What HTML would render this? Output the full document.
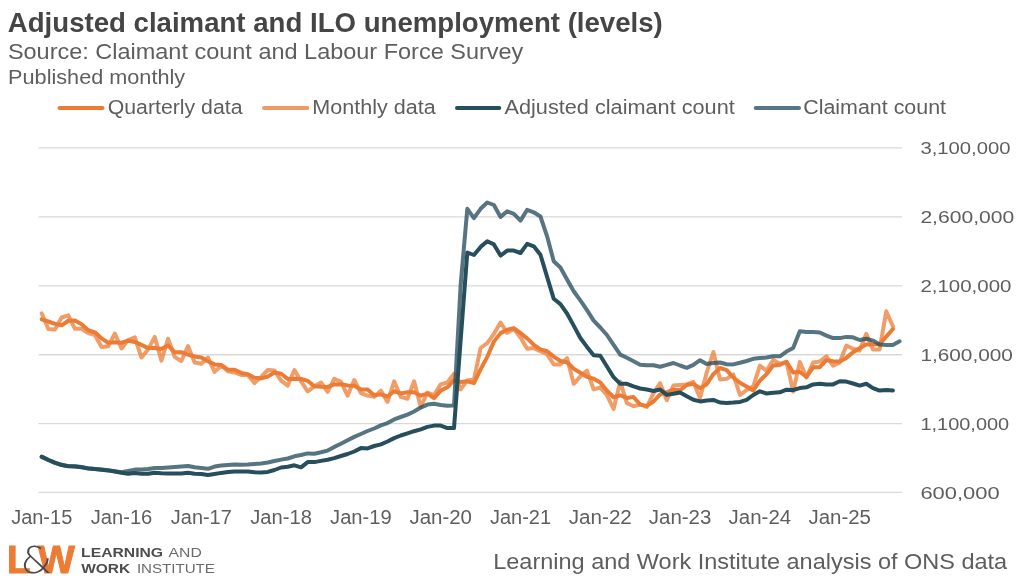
<!DOCTYPE html>
<html lang="en"><head><meta charset="utf-8"><title>Adjusted claimant and ILO unemployment (levels)</title>
<style>html,body{margin:0;padding:0;background:#fff}body{width:1024px;height:586px;overflow:hidden}svg{display:block}svg{fill:#5e5e5e}text{font-family:"Liberation Sans",sans-serif}</style>
</head><body>
<svg width="1024" height="586" viewBox="0 0 1024 586">
<rect width="1024" height="586" fill="#fff"/>
<text x="7.8" y="31.5" font-size="27.2" textLength="655" lengthAdjust="spacingAndGlyphs" font-weight="bold" fill="#454545">Adjusted claimant and ILO unemployment (levels)</text>
<text x="7.9" y="59.1" font-size="22" textLength="515.4" lengthAdjust="spacingAndGlyphs">Source: Claimant count and Labour Force Survey</text>
<text x="8.1" y="83.5" font-size="19.5" textLength="177" lengthAdjust="spacingAndGlyphs">Published monthly</text>
<line x1="59.5" y1="107.9" x2="102.5" y2="107.9" stroke="#EC7C35" stroke-width="4" stroke-linecap="round"/>
<text x="107.75" y="113.9" font-size="20" textLength="134.75" lengthAdjust="spacingAndGlyphs">Quarterly data</text>
<line x1="264" y1="107.9" x2="307.25" y2="107.9" stroke="#F09A68" stroke-width="4" stroke-linecap="round"/>
<text x="312.25" y="113.9" font-size="20" textLength="123.5" lengthAdjust="spacingAndGlyphs">Monthly data</text>
<line x1="457" y1="107.9" x2="499.25" y2="107.9" stroke="#264E5C" stroke-width="4" stroke-linecap="round"/>
<text x="504.5" y="113.9" font-size="20" textLength="230.25" lengthAdjust="spacingAndGlyphs">Adjusted claimant count</text>
<line x1="755.75" y1="107.9" x2="799" y2="107.9" stroke="#567782" stroke-width="4" stroke-linecap="round"/>
<text x="803.25" y="113.9" font-size="20" textLength="142.75" lengthAdjust="spacingAndGlyphs">Claimant count</text>
<line x1="38.6" y1="147.8" x2="902" y2="147.8" stroke="#D9D9D9" stroke-width="1.3"/>
<line x1="38.6" y1="216.8" x2="902" y2="216.8" stroke="#D9D9D9" stroke-width="1.3"/>
<line x1="38.6" y1="285.8" x2="902" y2="285.8" stroke="#D9D9D9" stroke-width="1.3"/>
<line x1="38.6" y1="354.75" x2="902" y2="354.75" stroke="#D9D9D9" stroke-width="1.3"/>
<line x1="38.6" y1="423.7" x2="902" y2="423.7" stroke="#D9D9D9" stroke-width="1.3"/>
<line x1="38.6" y1="492.4" x2="902" y2="492.4" stroke="#D9D9D9" stroke-width="1.3"/>
<text x="920.4" y="154.1" font-size="17" textLength="90.2" lengthAdjust="spacingAndGlyphs">3,100,000</text>
<text x="920.4" y="223.1" font-size="17" textLength="93.8" lengthAdjust="spacingAndGlyphs">2,600,000</text>
<text x="920.4" y="292.1" font-size="17" textLength="91.0" lengthAdjust="spacingAndGlyphs">2,100,000</text>
<text x="920.4" y="361.05" font-size="17" textLength="92.5" lengthAdjust="spacingAndGlyphs">1,600,000</text>
<text x="920.4" y="430.0" font-size="17" textLength="88.8" lengthAdjust="spacingAndGlyphs">1,100,000</text>
<text x="920.4" y="498.7" font-size="17" textLength="79.2" lengthAdjust="spacingAndGlyphs">600,000</text>
<text x="11.15" y="524.25" font-size="19.5" textLength="61.1" lengthAdjust="spacingAndGlyphs">Jan-15</text>
<text x="90.7" y="524.25" font-size="19.5" textLength="61.6" lengthAdjust="spacingAndGlyphs">Jan-16</text>
<text x="170.85" y="524.25" font-size="19.5" textLength="60.9" lengthAdjust="spacingAndGlyphs">Jan-17</text>
<text x="250.3" y="524.25" font-size="19.5" textLength="61.6" lengthAdjust="spacingAndGlyphs">Jan-18</text>
<text x="330.1" y="524.25" font-size="19.5" textLength="61.6" lengthAdjust="spacingAndGlyphs">Jan-19</text>
<text x="409.4" y="524.25" font-size="19.5" textLength="62.6" lengthAdjust="spacingAndGlyphs">Jan-20</text>
<text x="489.95" y="524.25" font-size="19.5" textLength="61.1" lengthAdjust="spacingAndGlyphs">Jan-21</text>
<text x="568.75" y="524.25" font-size="19.5" textLength="63.1" lengthAdjust="spacingAndGlyphs">Jan-22</text>
<text x="648.8" y="524.25" font-size="19.5" textLength="62.6" lengthAdjust="spacingAndGlyphs">Jan-23</text>
<text x="728.6" y="524.25" font-size="19.5" textLength="62.6" lengthAdjust="spacingAndGlyphs">Jan-24</text>
<text x="808.4" y="524.25" font-size="19.5" textLength="62.6" lengthAdjust="spacingAndGlyphs">Jan-25</text>
<path d="M41.70,313.30 L48.35,329.00 L55.00,329.40 L61.65,317.50 L68.30,315.30 L74.95,328.80 L81.60,328.80 L88.25,333.10 L94.90,335.00 L101.55,346.90 L108.20,346.30 L114.85,333.50 L121.50,348.50 L128.15,340.00 L134.80,337.30 L141.45,357.50 L148.10,349.40 L154.75,336.90 L161.40,360.60 L168.05,338.80 L174.70,356.90 L181.35,361.00 L188.00,346.00 L194.65,362.50 L201.30,363.80 L207.95,357.50 L214.60,371.90 L221.25,365.60 L227.90,371.30 L234.55,372.50 L241.20,375.00 L247.85,375.00 L254.50,383.10 L261.15,376.90 L267.80,370.00 L274.45,370.60 L281.10,380.60 L287.75,385.60 L294.40,370.00 L301.05,381.30 L307.70,391.30 L314.35,386.30 L321.00,382.50 L327.65,391.90 L334.30,378.80 L340.95,381.90 L347.60,395.60 L354.25,380.00 L360.90,393.10 L367.55,395.60 L374.20,396.90 L380.85,390.60 L387.50,401.90 L394.15,381.30 L400.80,396.90 L407.45,398.80 L414.10,381.30 L420.75,406.90 L427.40,392.50 L434.05,395.00 L440.70,384.40 L447.35,382.50 L454.00,373.80 L460.65,389.40 L467.30,380.50 L473.95,379.50 L480.60,348.00 L487.25,343.10 L493.90,333.80 L500.55,322.50 L507.20,332.80 L513.85,329.00 L520.50,337.50 L527.15,348.80 L533.80,348.10 L540.45,351.30 L547.10,354.30 L553.75,364.40 L560.40,364.40 L567.05,358.10 L573.70,383.80 L580.35,376.30 L587.00,370.60 L593.65,389.40 L600.30,387.50 L606.95,395.30 L613.60,409.00 L620.25,381.60 L626.90,403.10 L633.55,406.30 L640.20,404.40 L646.85,407.00 L653.50,393.10 L660.15,383.10 L666.80,400.30 L673.45,385.60 L680.10,385.00 L686.75,384.40 L693.40,382.00 L700.05,398.10 L706.70,372.50 L713.35,352.00 L720.00,379.40 L726.65,378.80 L733.30,374.40 L739.95,395.00 L746.60,390.00 L753.25,386.30 L759.90,365.60 L766.55,370.60 L773.20,360.00 L779.85,363.80 L786.50,361.90 L793.15,391.50 L799.80,361.90 L806.45,377.50 L813.10,362.50 L819.75,361.60 L826.40,356.30 L833.05,365.60 L839.70,362.50 L846.35,345.60 L853.00,348.80 L859.65,350.60 L866.30,333.80 L872.95,349.40 L879.60,349.40 L886.25,311.30 L892.90,326.30" fill="none" stroke="#EC7C35" stroke-opacity="0.75" stroke-width="4.0" stroke-linejoin="round" stroke-linecap="round"/>
<path d="M41.70,319.40 L48.35,321.50 L55.00,323.90 L61.65,325.30 L68.30,320.73 L74.95,320.53 L81.60,324.30 L88.25,330.23 L94.90,332.30 L101.55,338.33 L108.20,342.73 L114.85,342.23 L121.50,342.77 L128.15,340.67 L134.80,341.93 L141.45,344.93 L148.10,348.07 L154.75,347.93 L161.40,348.97 L168.05,345.43 L174.70,352.10 L181.35,352.23 L188.00,354.63 L194.65,356.50 L201.30,357.43 L207.95,361.27 L214.60,364.40 L221.25,365.00 L227.90,369.60 L234.55,369.80 L241.20,372.93 L247.85,374.17 L254.50,377.70 L261.15,378.33 L267.80,376.67 L274.45,372.50 L281.10,373.73 L287.75,378.93 L294.40,378.73 L301.05,378.97 L307.70,380.87 L314.35,386.30 L321.00,386.70 L327.65,386.90 L334.30,384.40 L340.95,384.20 L347.60,385.43 L354.25,385.83 L360.90,389.57 L367.55,389.57 L374.20,395.20 L380.85,394.37 L387.50,396.47 L394.15,391.27 L400.80,393.37 L407.45,392.33 L414.10,392.33 L420.75,395.67 L427.40,393.57 L434.05,398.13 L440.70,390.63 L447.35,387.30 L454.00,380.23 L460.65,381.90 L467.30,381.23 L473.95,383.13 L480.60,369.33 L487.25,356.87 L493.90,341.63 L500.55,333.13 L507.20,329.70 L513.85,328.10 L520.50,333.10 L527.15,338.43 L533.80,344.80 L540.45,349.40 L547.10,351.23 L553.75,356.67 L560.40,361.03 L567.05,362.30 L573.70,368.77 L580.35,372.73 L587.00,376.90 L593.65,378.77 L600.30,382.50 L606.95,390.73 L613.60,397.27 L620.25,395.30 L626.90,397.90 L633.55,397.00 L640.20,404.60 L646.85,405.90 L653.50,401.50 L660.15,394.40 L666.80,392.17 L673.45,389.67 L680.10,390.30 L686.75,385.00 L693.40,383.80 L700.05,388.17 L706.70,384.20 L713.35,374.20 L720.00,367.97 L726.65,370.07 L733.30,377.53 L739.95,382.73 L746.60,386.47 L753.25,390.43 L759.90,380.63 L766.55,374.17 L773.20,365.40 L779.85,364.80 L786.50,361.90 L793.15,372.40 L799.80,371.77 L806.45,376.97 L813.10,367.30 L819.75,367.20 L826.40,360.13 L833.05,361.17 L839.70,361.47 L846.35,357.90 L853.00,352.30 L859.65,348.33 L866.30,344.40 L872.95,344.60 L879.60,344.20 L886.25,336.70 L892.90,329.00" fill="none" stroke="#EC7C35" stroke-width="4.0" stroke-linejoin="round" stroke-linecap="round"/>
<path d="M41.70,456.60 L48.35,459.80 L55.00,462.60 L61.65,464.80 L68.30,466.10 L74.95,466.30 L81.60,467.10 L88.25,468.30 L94.90,468.90 L101.55,469.60 L108.20,470.20 L114.85,471.30 L121.50,472.30 L128.15,471.00 L134.80,469.60 L141.45,469.40 L148.10,469.00 L154.75,468.10 L161.40,468.10 L168.05,467.50 L174.70,467.10 L181.35,466.60 L188.00,466.00 L194.65,467.30 L201.30,468.10 L207.95,468.80 L214.60,466.60 L221.25,465.60 L227.90,465.00 L234.55,464.60 L241.20,464.80 L247.85,464.60 L254.50,464.00 L261.15,463.50 L267.80,462.50 L274.45,461.00 L281.10,459.60 L287.75,458.50 L294.40,456.30 L301.05,455.00 L307.70,453.40 L314.35,453.80 L321.00,452.30 L327.65,450.60 L334.30,446.90 L340.95,443.80 L347.60,440.30 L354.25,436.90 L360.90,434.00 L367.55,431.00 L374.20,428.50 L380.85,425.40 L387.50,423.10 L394.15,419.40 L400.80,417.00 L407.45,414.60 L414.10,411.50 L420.75,407.60 L427.40,404.60 L434.05,403.80 L440.70,405.00 L447.35,405.70 L454.00,405.50 L460.65,285.00 L467.30,208.80 L473.95,218.10 L480.60,208.80 L487.25,202.50 L493.90,205.00 L500.55,216.90 L507.20,211.30 L513.85,213.80 L520.50,220.60 L527.15,209.80 L533.80,212.30 L540.45,216.50 L547.10,236.30 L553.75,261.30 L560.40,267.50 L567.05,279.40 L573.70,291.30 L580.35,300.40 L587.00,310.20 L593.65,320.60 L600.30,327.50 L606.95,335.00 L613.60,344.80 L620.25,354.60 L626.90,357.80 L633.55,361.30 L640.20,364.80 L646.85,365.30 L653.50,365.20 L660.15,366.70 L666.80,364.90 L673.45,363.00 L680.10,365.50 L686.75,367.80 L693.40,364.90 L700.05,360.20 L706.70,364.10 L713.35,363.10 L720.00,362.50 L726.65,364.20 L733.30,364.40 L739.95,362.80 L746.60,361.00 L753.25,358.80 L759.90,358.10 L766.55,357.50 L773.20,356.30 L779.85,356.30 L786.50,351.60 L793.15,348.10 L799.80,331.30 L806.45,331.90 L813.10,332.10 L819.75,332.50 L826.40,335.60 L833.05,338.10 L839.70,338.10 L846.35,336.90 L853.00,337.30 L859.65,340.00 L866.30,338.80 L872.95,340.60 L879.60,344.40 L886.25,345.00 L892.90,345.00 L899.55,341.30" fill="none" stroke="#264E5C" stroke-opacity="0.78" stroke-width="4.0" stroke-linejoin="round" stroke-linecap="round"/>
<path d="M41.70,456.90 L48.35,460.00 L55.00,462.80 L61.65,465.00 L68.30,466.30 L74.95,466.50 L81.60,467.30 L88.25,468.50 L94.90,469.10 L101.55,469.80 L108.20,470.40 L114.85,471.50 L121.50,472.80 L128.15,473.80 L134.80,473.10 L141.45,473.80 L148.10,473.80 L154.75,472.80 L161.40,473.30 L168.05,473.50 L174.70,473.50 L181.35,473.40 L188.00,472.80 L194.65,473.80 L201.30,474.00 L207.95,475.00 L214.60,474.00 L221.25,472.90 L227.90,472.10 L234.55,471.60 L241.20,471.60 L247.85,471.60 L254.50,472.30 L261.15,472.50 L267.80,471.90 L274.45,470.00 L281.10,467.50 L287.75,466.70 L294.40,465.30 L301.05,467.30 L307.70,462.10 L314.35,462.10 L321.00,460.90 L327.65,459.80 L334.30,458.10 L340.95,456.00 L347.60,454.00 L354.25,451.50 L360.90,448.10 L367.55,448.40 L374.20,446.00 L380.85,444.40 L387.50,441.50 L394.15,438.10 L400.80,435.50 L407.45,433.30 L414.10,431.20 L420.75,429.40 L427.40,426.90 L434.05,425.60 L440.70,425.60 L447.35,428.10 L454.00,428.10 L467.30,252.50 L473.95,255.00 L480.60,246.90 L487.25,241.30 L493.90,244.40 L500.55,255.60 L507.20,250.60 L513.85,250.60 L520.50,253.00 L527.15,243.80 L533.80,246.30 L540.45,254.70 L547.10,276.90 L553.75,298.80 L560.40,304.10 L567.05,313.50 L573.70,325.60 L580.35,338.00 L587.00,346.90 L593.65,355.20 L600.30,355.80 L606.95,366.50 L613.60,377.20 L620.25,383.80 L626.90,383.80 L633.55,386.40 L640.20,388.50 L646.85,389.50 L653.50,391.00 L660.15,389.50 L666.80,394.90 L673.45,393.80 L680.10,392.50 L686.75,396.30 L693.40,399.80 L700.05,401.40 L706.70,400.50 L713.35,399.90 L720.00,402.50 L726.65,402.90 L733.30,402.50 L739.95,401.90 L746.60,399.80 L753.25,395.00 L759.90,391.30 L766.55,393.50 L773.20,392.80 L779.85,392.30 L786.50,389.70 L793.15,390.00 L799.80,388.10 L806.45,387.30 L813.10,384.40 L819.75,383.80 L826.40,384.40 L833.05,384.40 L839.70,381.30 L846.35,381.60 L853.00,383.50 L859.65,385.60 L866.30,383.80 L872.95,388.10 L879.60,390.60 L886.25,390.00 L892.90,390.60" fill="none" stroke="#264E5C" stroke-width="4.0" stroke-linejoin="round" stroke-linecap="round"/>
<g id="logo">
<text x="7.1" y="573.45" font-size="38.4" font-weight="bold" fill="#EC7C35" stroke="#EC7C35" stroke-width="1">L</text>
<text x="37.9" y="573.45" font-size="38.4" font-weight="bold" fill="#EC7C35" stroke="#EC7C35" stroke-width="1" textLength="36.8" lengthAdjust="spacingAndGlyphs">W</text>
<text x="20.3" y="573.4" font-size="36.7" fill="#4a4a4a" style="font-family:'DejaVu Sans','Liberation Sans',sans-serif;font-weight:200" textLength="32" lengthAdjust="spacingAndGlyphs">&amp;</text>
<text x="81.1" y="556.9" font-size="13.3" textLength="82" lengthAdjust="spacingAndGlyphs" font-weight="bold" fill="#4d4d4d">LEARNING</text>
<text x="168.6" y="556.9" font-size="13.3" textLength="33.2" lengthAdjust="spacingAndGlyphs" fill="#6a6a6a">AND</text>
<text x="81.2" y="573.3" font-size="13.3" textLength="49" lengthAdjust="spacingAndGlyphs" font-weight="bold" fill="#4d4d4d">WORK</text>
<text x="136.9" y="573.3" font-size="13.3" textLength="78" lengthAdjust="spacingAndGlyphs" fill="#6a6a6a">INSTITUTE</text>
</g>
<text x="493.2" y="569.2" font-size="21.5" textLength="514" lengthAdjust="spacingAndGlyphs">Learning and Work Institute analysis of ONS data</text>
</svg>
</body></html>
